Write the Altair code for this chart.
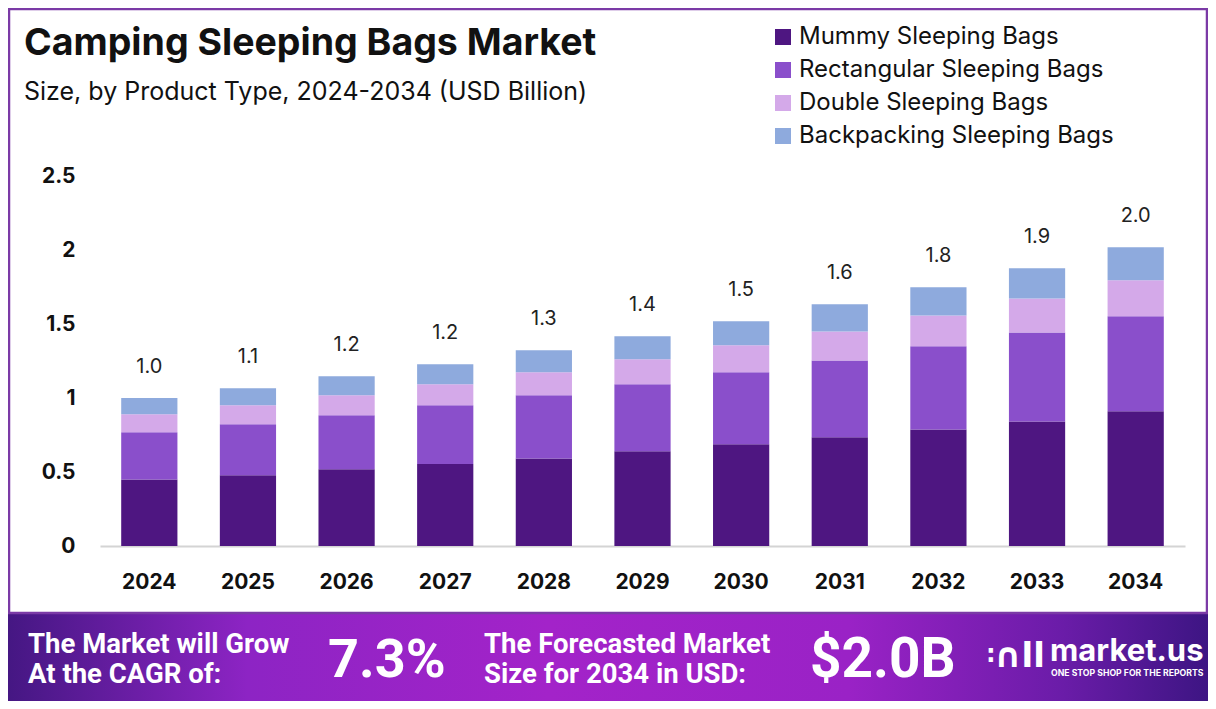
import altair as alt
import pandas as pd

years = ["2024", "2025", "2026", "2027", "2028", "2029", "2030", "2031", "2032", "2033", "2034"]
mummy = [0.450, 0.478, 0.518, 0.554, 0.592, 0.640, 0.687, 0.734, 0.788, 0.842, 0.910]
rectangular = [0.318, 0.344, 0.366, 0.397, 0.427, 0.453, 0.487, 0.520, 0.561, 0.601, 0.642]
double = [0.122, 0.129, 0.135, 0.142, 0.155, 0.168, 0.182, 0.196, 0.209, 0.230, 0.243]
backpacking = [0.110, 0.115, 0.128, 0.135, 0.148, 0.156, 0.162, 0.183, 0.190, 0.203, 0.223]
total_labels = ["1.0", "1.1", "1.2", "1.2", "1.3", "1.4", "1.5", "1.6", "1.8", "1.9", "2.0"]
segments = ["Mummy Sleeping Bags", "Rectangular Sleeping Bags", "Double Sleeping Bags", "Backpacking Sleeping Bags"]
colors = ["#4e1681", "#8a4fcb", "#d4a9e9", "#8eaadd"]
y_ticks = [0, 0.5, 1, 1.5, 2, 2.5]

F = "Inter"
FB = "Roboto"

rows = []
for si, (name, vals) in enumerate(zip(segments, [mummy, rectangular, double, backpacking])):
    for yr, v in zip(years, vals):
        rows.append({"year": yr, "type": name, "value": v, "order": si})
df = pd.DataFrame(rows)

tot = df.groupby("year", as_index=False)["value"].sum()
tot["label"] = [total_labels[years.index(y)] for y in tot["year"]]

y_scale = alt.Scale(domain=[0, 2.5], nice=False, zero=True)

x_enc = alt.X(
    "year:N", sort=years,
    scale=alt.Scale(paddingInner=0.43, paddingOuter=0.215),
    axis=alt.Axis(title=None, labelAngle=0, labelFont=F, labelFontSize=21, labelFontWeight="bold",
                  labelColor="#111111", labelPadding=25, ticks=False,
                  domainColor="#d4d4d4", domainWidth=2),
)

bars = alt.Chart(df).mark_bar().encode(
    x=x_enc,
    y=alt.Y("value:Q", stack="zero", scale=y_scale,
            axis=alt.Axis(title=None, values=y_ticks, format="~g", grid=False, domain=False, ticks=False,
                          labelPadding=25, labelFont=F, labelFontSize=21, labelFontWeight="bold",
                          labelColor="#111111")),
    color=alt.Color("type:N", scale=alt.Scale(domain=segments, range=colors),
                    legend=alt.Legend(orient="none", legendX=671, legendY=-151, title=None,
                                      symbolType="square", symbolSize=256, symbolStrokeWidth=0,
                                      symbolOpacity=1, labelFontSize=24, labelFont=F,
                                      labelColor="#111111", rowPadding=9, labelOffset=4,
                                      padding=0, labelLimit=400)),
    order=alt.Order("order:Q", sort="ascending"),
)

labels = alt.Chart(tot).mark_text(dy=-31, fontSize=20, font=F, color="#222222", baseline="middle").encode(
    x=alt.X("year:N", sort=years),
    y=alt.Y("value:Q", scale=y_scale),
    text="label:N",
)

one = pd.DataFrame({"k": [0]})

footer = alt.Chart(one).mark_rect(
    color=alt.LinearGradient(
        gradient="linear", x1=0, x2=1, y1=0, y2=0,
        stops=[alt.GradientStop(color="#451783", offset=0),
               alt.GradientStop(color="#8d24c4", offset=0.2),
               alt.GradientStop(color="#a323c9", offset=0.45),
               alt.GradientStop(color="#9a22c6", offset=0.7),
               alt.GradientStop(color="#6a1ca8", offset=0.88),
               alt.GradientStop(color="#3d1583", offset=1)]),
).encode(x=alt.value(-92), x2=alt.value(1108), y=alt.value(437), y2=alt.value(525))

border = alt.Chart(one).mark_rect(filled=False, stroke="#7b3aa6", strokeWidth=2.5).encode(
    x=alt.value(-91), x2=alt.value(1107), y=alt.value(-167), y2=alt.value(437))


def txt(s, x, y, size, weight="normal", color="#111111", font=F, align="left"):
    return alt.Chart(pd.DataFrame({"t": [s]})).mark_text(
        align=align, baseline="middle", fontSize=size, fontWeight=weight, color=color, font=font
    ).encode(x=alt.value(x), y=alt.value(y), text="t:N")


texts = [
    txt("Camping Sleeping Bags Market", -76, -132, 37.5, "bold"),
    txt("Size, by Product Type, 2024-2034 (USD Billion)", -76, -84, 25),
    txt("The Market will Grow", -72, 469, 27.5, "bold", "white", FB),
    txt("At the CAGR of:", -72, 499, 27.5, "bold", "white", FB),
    txt("7.3%", 228, 485, 54, "bold", "white", FB),
    txt("The Forecasted Market", 384, 469, 27.5, "bold", "white", FB),
    txt("Size for 2034 in USD:", 384, 499, 27.5, "bold", "white", FB),
    txt("$2.0B", 710, 484, 55, "bold", "white", FB),
    txt(":", 886, 479, 24, "bold", "white", "DejaVu Sans"),
    txt("\u2229ll", 894, 481, 34, "bold", "white", "DejaVu Sans"),
    txt("market.us", 950, 476, 31, "bold", "white", F),
    txt("ONE STOP SHOP FOR THE REPORTS", 951, 497, 8.7, "bold", "white", F),
]

chart = alt.layer(footer, border, bars, labels, *texts).properties(
    width=1085, height=370, autosize="none",
    padding={"left": 92, "top": 168, "right": 23, "bottom": 155},
    background="white",
).configure_view(strokeWidth=0)

chart.save("out.html", embed_options={"renderer": "svg", "actions": False})
